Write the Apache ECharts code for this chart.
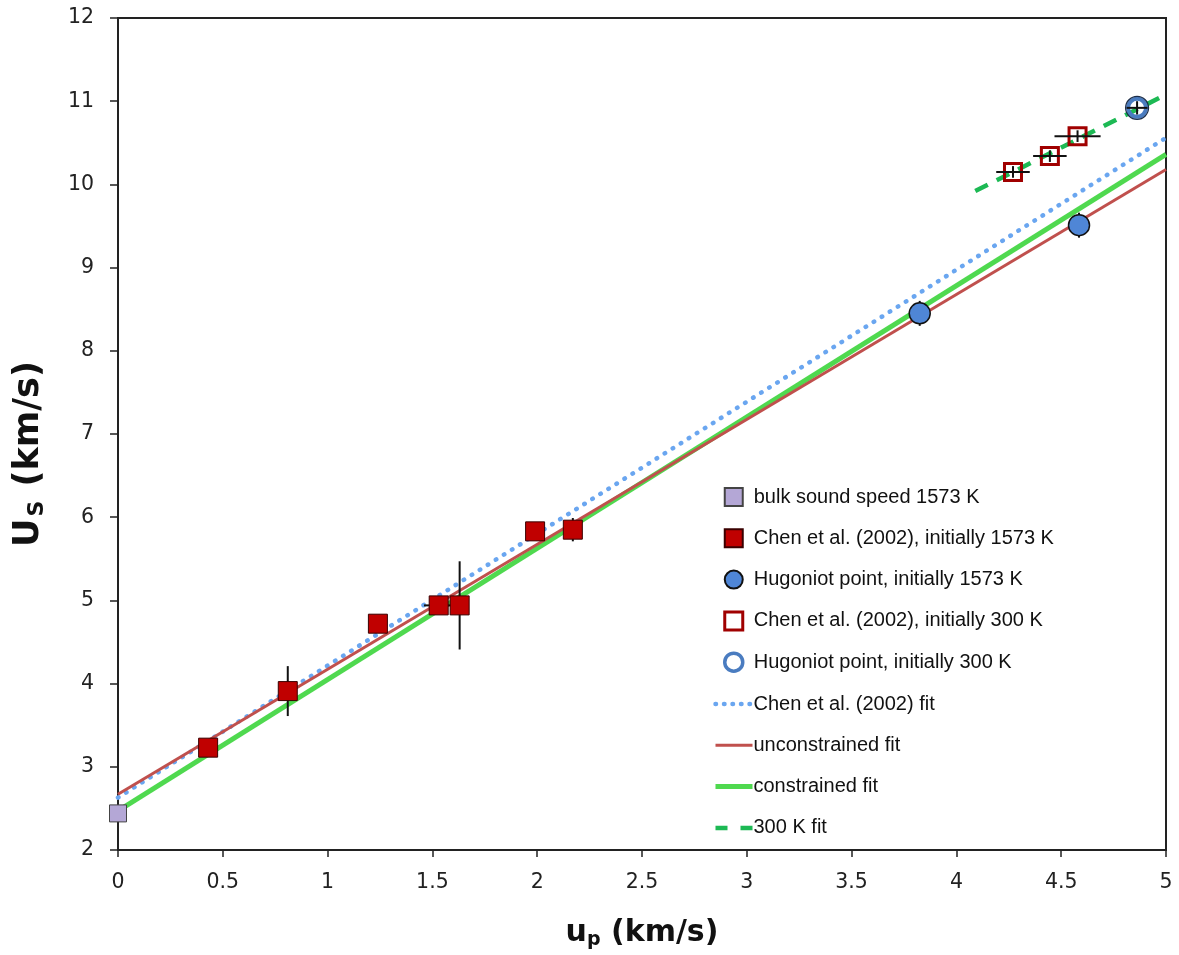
<!DOCTYPE html>
<html><head><meta charset="utf-8">
<script src="https://cdn.jsdelivr.net/npm/echarts@6/dist/echarts.min.js"></script>
<style>html,body{margin:0;padding:0;background:#fff}#c{width:1179px;height:955px}</style>
</head><body><div id="c"></div>
<script>
// ---- data: [up, Us] ----
const bulkSound1573 = [[0, 2.44]];
const chen1573 = [[0.43, 3.23], [0.81, 3.91], [1.24, 4.72], [1.53, 4.94], [1.63, 4.94], [1.99, 5.83], [2.17, 5.85]];
const hugoniot1573 = [[3.825, 8.45], [4.585, 9.51]];
const chen300 = [[4.27, 10.15], [4.446, 10.34], [4.578, 10.58]];
const hugoniot300 = [[4.862, 10.92]];
// error bars: [up, Us, upErr, UsErr]
const errorBars = [
  [0.81, 3.91, 0, 0.30], [1.53, 4.94, 0.07, 0], [1.63, 4.94, 0, 0.53], [2.17, 5.85, 0, 0.14],
  [3.825, 8.45, 0, 0.15], [4.585, 9.51, 0, 0.15],
  [4.27, 10.15, 0.08, 0.07], [4.446, 10.34, 0.08, 0.07], [4.578, 10.58, 0.11, 0.07],
  [4.862, 10.92, 0.05, 0.08]
];
// fit lines (endpoints)
const chenFit = [[0, 2.63], [5, 10.56]];
const unconstrainedFit = [[0, 2.67], [5, 10.18]];
const constrainedFit = [[0, 2.47], [5, 10.36]];
const fit300K = [[4.09, 9.92], [5, 11.08]];
const xTicks = ['0', '0.5', '1', '1.5', '2', '2.5', '3', '3.5', '4', '4.5', '5'];

const pointNames = ['bulk sound speed 1573 K', 'Chen et al. (2002), initially 1573 K', 'Hugoniot point, initially 1573 K',
  'Chen et al. (2002), initially 300 K', 'Hugoniot point, initially 300 K'];
const lineNames = ['Chen et al. (2002) fit', 'unconstrained fit', 'constrained fit', '300 K fit'];

const lineStyles = [
  {color: '#6aa6f0', width: 4.5, type: [0.5, 9], cap: 'round'},
  {color: '#c0504d', width: 3},
  {color: '#4fd94f', width: 5},
  {color: '#1db954', width: 4.5, type: [14, 10]}
];
const legendLineStyles = [
  {color: '#6aa6f0', width: 4.5, type: [0.5, 8], cap: 'round'},
  {color: '#c0504d', width: 3},
  {color: '#4fd94f', width: 5},
  {color: '#1db954', width: 4.5, type: [12, 13]}
];
const legendPointStyles = [
  {}, {}, {},
  {borderWidth: 3, borderColor: '#a00000'},
  {borderWidth: 3.5, borderColor: '#4a7cc0'}
];

const chart = echarts.init(document.getElementById('c'), null, {renderer: 'canvas'});
const tickFont = {fontFamily: 'DejaVu Sans', fontSize: 20.5, color: '#222'};
const legendText = {fontFamily: 'Liberation Sans', fontSize: 20, color: '#111', lineHeight: 24};
chart.setOption({
  animation: false,
  backgroundColor: '#fff',
  grid: {left: 118, right: 13, top: 18, bottom: 103, show: true, borderColor: '#222', borderWidth: 2, containLabel: false},
  xAxis: {
    type: 'value', min: 0, max: 5, interval: 0.5,
    axisLine: {lineStyle: {color: '#222', width: 2}},
    axisTick: {show: true, inside: false, length: 7, lineStyle: {color: '#222', width: 1.5}},
    splitLine: {show: false},
    axisLabel: Object.assign({margin: 22, formatter: v => xTicks[Math.round(v * 2)]}, tickFont),
    name: '{a|u}{s|p}{a| (km/s)}', nameLocation: 'middle', nameGap: 66,
    nameTextStyle: {rich: {
      a: {fontFamily: 'DejaVu Sans', fontWeight: 'bold', fontSize: 30, color: '#111', lineHeight: 34},
      s: {fontFamily: 'DejaVu Sans', fontWeight: 'bold', fontSize: 19, color: '#111', lineHeight: 34, padding: [15, 0, 0, 0]}
    }}
  },
  yAxis: {
    type: 'value', min: 2, max: 12, interval: 1,
    axisLine: {lineStyle: {color: '#222', width: 2}},
    axisTick: {show: true, inside: false, length: 8, lineStyle: {color: '#222', width: 1.5}},
    splitLine: {show: false},
    axisLabel: Object.assign({margin: 24}, tickFont),
    name: '{a|U}{s|S}{a| (km/s)}', nameLocation: 'middle', nameGap: 70, nameRotate: 90,
    nameTextStyle: {padding: [0, 40, 0, 0], rich: {
      a: {fontFamily: 'DejaVu Sans', fontWeight: 'bold', fontSize: 35, color: '#111', lineHeight: 38},
      s: {fontFamily: 'DejaVu Sans', fontWeight: 'bold', fontSize: 22, color: '#111', lineHeight: 38, padding: [17, 2, 0, 2]}
    }}
  },
  legend: [
    {orient: 'vertical', left: 718, top: 480, itemWidth: 18, itemHeight: 18, itemGap: 17.3,
      textStyle: Object.assign({padding: [0, 0, 0, 6]}, legendText),
      data: pointNames.map((n, i) => ({name: n, itemStyle: legendPointStyles[i]}))},
    {orient: 'vertical', left: 708, top: 687, itemWidth: 37, itemHeight: 18, itemGap: 17.3,
      textStyle: Object.assign({padding: [0, 0, 0, -4]}, legendText),
      data: lineNames.map((n, i) => ({name: n, itemStyle: {opacity: 0}, lineStyle: legendLineStyles[i]}))}
  ],
  series: [
    {name: lineNames[0], type: 'line', data: chenFit, symbol: 'none', z: 3,
      lineStyle: lineStyles[0], itemStyle: {color: lineStyles[0].color}},
    {name: lineNames[1], type: 'line', data: unconstrainedFit, symbol: 'none', z: 4,
      lineStyle: lineStyles[1], itemStyle: {color: lineStyles[1].color}},
    {name: lineNames[2], type: 'line', data: constrainedFit, symbol: 'none', z: 3,
      lineStyle: lineStyles[2], itemStyle: {color: lineStyles[2].color}},
    {name: lineNames[3], type: 'line', data: fit300K, symbol: 'none', z: 3,
      lineStyle: lineStyles[3], itemStyle: {color: lineStyles[3].color}},
    {type: 'custom', z: 5, data: errorBars, silent: true,
      renderItem: function (params, api) {
        const x = api.value(0), y = api.value(1), ex = api.value(2), ey = api.value(3);
        const children = [];
        const st = {stroke: '#111', lineWidth: 2};
        if (ex > 0) {
          const a = api.coord([x - ex, y]), b = api.coord([x + ex, y]);
          children.push({type: 'line', shape: {x1: a[0], y1: a[1], x2: b[0], y2: b[1]}, style: st});
        }
        if (ey > 0) {
          const a = api.coord([x, y - ey]), b = api.coord([x, y + ey]);
          children.push({type: 'line', shape: {x1: a[0], y1: a[1], x2: b[0], y2: b[1]}, style: st});
        }
        return {type: 'group', children: children};
      }},
    {name: pointNames[0], type: 'scatter', data: bulkSound1573, symbol: 'rect', symbolSize: 17, z: 6,
      itemStyle: {color: '#b4a7d6', borderColor: '#444', borderWidth: 1, opacity: 1}},
    {name: pointNames[1], type: 'scatter', data: chen1573, symbol: 'rect', symbolSize: 19, z: 6,
      itemStyle: {color: '#c00000', borderColor: '#3a0000', borderWidth: 1, opacity: 1}},
    {name: pointNames[2], type: 'scatter', data: hugoniot1573, symbol: 'circle', symbolSize: 21, z: 6,
      itemStyle: {color: '#4f86d6', borderColor: '#111', borderWidth: 1.5, opacity: 1}},
    {name: pointNames[3], type: 'scatter', data: chen300, symbol: 'rect', symbolSize: 17, z: 4,
      itemStyle: {color: 'rgba(255,255,255,0)', borderColor: '#a00000', borderWidth: 3, opacity: 1}},
    {name: pointNames[4], type: 'scatter', data: hugoniot300, symbol: 'circle', symbolSize: 18, z: 4,
      itemStyle: {color: 'rgba(255,255,255,0)', borderColor: '#4a7cc0', borderWidth: 4, opacity: 1}},
    {name: pointNames[4], type: 'scatter', data: hugoniot300, symbol: 'circle', symbolSize: 23, z: 4,
      itemStyle: {color: 'rgba(255,255,255,0)', borderColor: '#1c2d48', borderWidth: 1.2, opacity: 1}}
  ]
});
</script></body></html>
